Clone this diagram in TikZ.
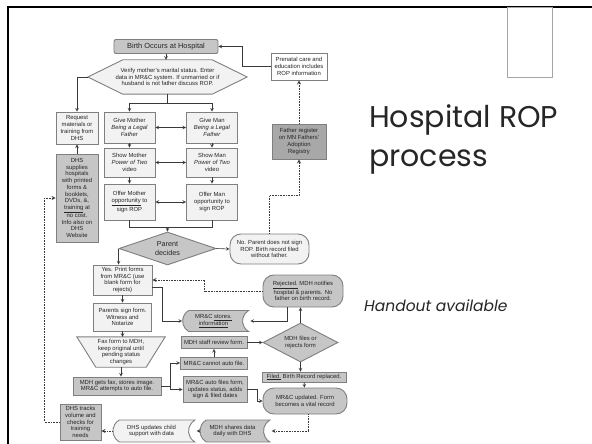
\documentclass[tikz,border=0pt]{standalone}
\usepackage{fontspec}
\setmainfont{Liberation Sans}
\newfontfamily\titlefont{Poppins}
\usetikzlibrary{shapes.geometric,shapes.misc,backgrounds}
\definecolor{boxlight}{HTML}{F2F2F2}
\definecolor{boxmid}{HTML}{C6C6C6}
\definecolor{boxdark}{HTML}{A8A8A8}
\definecolor{edgegray}{HTML}{7F7F7F}
\definecolor{linkgray}{HTML}{3A3A3A}
\definecolor{titlegray}{HTML}{262626}
\newcommand{\boxfont}{\fontsize{5.9}{6.7}\selectfont}
\begin{document}
\begin{tikzpicture}[x=1pt, y=-1pt, >=stealth,
  box/.style={draw=edgegray, line width=0.9pt, fill=boxlight, align=center, inner sep=0.5pt, font=\boxfont, text=black!85},
  midbox/.style={box, fill=boxmid},
  darkbox/.style={box, fill=boxdark},
  terminal/.style={midbox, rounded corners=11pt},
  stored/.style={midbox, rounded rectangle, rounded rectangle right arc=concave, rounded rectangle arc length=120},
  decide/.style={midbox, diamond, inner sep=0pt},
  link/.style={draw=linkgray, line width=0.6pt},
  dotlink/.style={link, densely dotted, line width=0.8pt}]
  \useasboundingbox (0,0) rectangle (592,444);
  \draw[line width=2.5pt] (8,444) -- (8,7) -- (592,7);
  \draw[gray!70, line width=0.6pt] (507,7) rectangle (552,77);

  \node[midbox, rounded corners=2pt, minimum width=104pt, minimum height=14pt, font=\fontsize{7.4}{8.5}\selectfont] (birth) at (166,46.5) {Birth Occurs at Hospital};
  \node[font=\boxfont, text=black!85, align=center, minimum width=159pt, minimum height=34pt, inner sep=0pt] (verify) at (167.5,77) {Verify mother's marital status. Enter\\data in MR\&C system. If unmarried or if\\husband is not father discuss ROP.};
  \node[box, minimum width=42pt, minimum height=32pt] (request) at (77,128) {Request\\materials or\\training from\\DHS};
  \node[box, minimum width=51pt, minimum height=31pt] (givemother) at (129.5,127.5) {Give Mother\\\textit{Being a Legal}\\\textit{Father}};
  \node[box, minimum width=51pt, minimum height=31pt] (giveman) at (212,127.5) {Give Man\\\textit{Being a Legal}\\\textit{Father}};
  \node[box, minimum width=51pt, minimum height=29pt] (showmother) at (129.5,162.5) {Show Mother\\\textit{Power of Two}\\video};
  \node[box, minimum width=51pt, minimum height=29pt] (showman) at (212,162.5) {Show Man\\\textit{Power of Two}\\video};
  \node[box, minimum width=51pt, minimum height=36pt] (offermother) at (129.5,202) {Offer Mother\\\underline{opportunity} to\\sign ROP};
  \node[box, minimum width=51pt, minimum height=36pt] (offerman) at (212,202) {Offer Man\\opportunity to\\sign ROP};
  \node[midbox, minimum width=42pt, minimum height=88pt] (dhssupply) at (77,198) {DHS\\supplies\\hospitals\\with printed\\forms \&\\booklets,\\DVDs, \&,\\\underline{training} at\\no cost.\\Info also on\\DHS\\Website};
  \node[decide, minimum width=97pt, minimum height=33pt, aspect=2.9, font=\fontsize{7.2}{8.6}\selectfont] (parent) at (167.5,248.5) {Parent\\decides};
  \node[box, rounded corners=11pt, minimum width=79pt, minimum height=30pt] (noparent) at (269.5,249) {No. Parent does not sign\\ROP. Birth record filed\\without father.};
  \node[darkbox, minimum width=54pt, minimum height=35pt] (father) at (299,141.5) {Father register\\on MN Fathers'\\Adoption\\Registry};
  \node[box, fill=white, minimum width=56pt, minimum height=27pt] (prenatal) at (299,66.5) {Prenatal care and\\education includes\\ROP information};
  \node[box, minimum width=59pt, minimum height=30pt] (yes) at (122.5,280) {Yes. Print forms\\from MR\&C (use\\blank form for\\rejects)};
  \node[box, minimum width=58pt, minimum height=28pt] (signform) at (122.5,317) {Parents sign form.\\Witness and\\Notarize};
  \node[font=\boxfont, text=black!85, align=center, minimum width=88pt, minimum height=30pt, inner sep=0pt] (fax) at (121,352) {Fax form to MDH,\\keep original until\\pending status\\changes};
  \node[midbox, minimum width=88pt, minimum height=18pt] (mdhfax) at (117,386) {MDH gets fax, stores image.\\MR\&C attempts to auto file.};
  \node[stored, minimum width=67pt, minimum height=21pt] (stores) at (213.5,321) {MR\&C \underline{stores.}\\\underline{information}};
  \node[midbox, minimum width=66pt, minimum height=12pt] (review) at (214,342.5) {MDH staff review form.};
  \node[midbox, minimum width=67pt, minimum height=12pt] (cannot) at (214,363) {MR\&C cannot auto file.};
  \node[midbox, minimum width=64pt, minimum height=26pt] (autofiles) at (215,389.5) {MR\&C auto files form,\\updates status, adds\\sign \& filed dates};
  \node[decide, minimum width=75pt, minimum height=39pt, aspect=1.9] (mdhfiles) at (300.5,342.5) {MDH files or\\rejects form};
  \node[terminal, minimum width=80pt, minimum height=32pt] (rejected) at (303,291) {\underline{Rejected.} MDH notifies\\hospital \& parents. No\\father on birth record.};
  \node[midbox, minimum width=84pt, minimum height=10pt] (filed) at (304,377) {\underline{Filed.} Birth Record replaced.};
  \node[terminal, minimum width=84pt, minimum height=26pt] (updated) at (305,401) {MR\&C updated. Form\\becomes a vital record};
  \node[stored, minimum width=71pt, minimum height=22pt] (shares) at (232.5,431) {MDH shares data\\daily with DHS};
  \node[stored, fill=boxlight, minimum width=83pt, minimum height=22pt] (dhsupdate) at (151.5,431) {DHS updates child\\support with data};
  \node[midbox, minimum width=41pt, minimum height=36pt] (tracks) at (80.5,422) {DHS tracks\\volume and\\checks for\\training\\needs};

  \node[anchor=base west, inner sep=0pt, text=titlegray, font=\titlefont\fontsize{30}{36}\selectfont] (title) at (369,128) {Hospital ROP};
  \node[anchor=base west, inner sep=0pt, text=titlegray, font=\titlefont\fontsize{30}{36}\selectfont] (titletwo) at (369,166) {process};
  \node[anchor=west, inner sep=0pt, text=titlegray, font=\titlefont\itshape\fontsize{15.5}{18}\selectfont] (handout) at (364,306) {Handout available};

  \begin{pgfonlayer}{background}
    \filldraw[draw=edgegray, line width=0.9pt, fill=boxlight] (verify.west) -- ([xshift=35pt]verify.north west) -- ([xshift=-35pt]verify.north east) -- (verify.east) -- ([xshift=-35pt]verify.south east) -- ([xshift=35pt]verify.south west) -- cycle;
    \filldraw[draw=edgegray, line width=0.9pt, fill=boxlight] (fax.north west) -- (fax.north east) -- ([xshift=-19pt]fax.south east) -- ([xshift=19pt]fax.south west) -- cycle;
  \end{pgfonlayer}

  \draw[link,->] (birth.south) -- (birth.south |- verify.north);
  \draw[link,->] (verify.west) -| (request.north);
  \draw[link] (verify.south) -- ++(0,9) coordinate (split);
  \draw[link,->] (split) -| (givemother.north);
  \draw[link,->] (split) -| (giveman.north);
  \draw[link,<->] (givemother) -- (giveman);
  \draw[link,<->] (showmother) -- (showman);
  \draw[link,<->] (offermother) -- (offerman);
  \draw[link,->] (givemother) -- (showmother);
  \draw[link,->] (showmother) -- (offermother);
  \draw[link,->] (giveman) -- (showman);
  \draw[link,->] (showman) -- (offerman);
  \draw[link] (offermother.south) -- ++(0,7) coordinate (join) -| (offerman.south);
  \draw[link,->] (join -| parent.north) -- (parent.north);
  \draw[link,->] (parent.east) -- (noparent.west);
  \draw[dotlink,->] (noparent.north) -- ++(0,-38) -| (father.south);
  \draw[dotlink,->] (father.north) -- (prenatal.south);
  \draw[link,->] (prenatal.west) -- ++(-28,0) |- (birth.east);
  \draw[link,->] (parent.west) -- (parent.west |- yes.north);
  \draw[link,->] (dhssupply) -- (request);
  \draw[link,->] (yes) -- (signform);
  \draw[link,->] (signform.south) -- (signform.south |- fax.north);
  \draw[link,->] (fax.south) -- (fax.south |- mdhfax.north);
  \draw[link] (mdhfax.east) -- ++(9,0) coordinate (fork);
  \draw[link,->] (fork) |- (cannot.west);
  \draw[link,->] (fork) |- (autofiles.west);
  \draw[link,->] (cannot) -- (review);
  \draw[link,->] (review.east) -- (mdhfiles.west);
  \draw[link,->] (mdhfiles.north) -- (mdhfiles.north |- rejected.south);
  \draw[link,->] ([xshift=-16pt]rejected.south) |- (stores.east);
  \draw[link,->] ([yshift=-7pt]yes.east) -- ++(10,0) |- (stores.west);
  \draw[dotlink,->] (rejected.west) -- ++(-58,0) |- (yes.east);
  \draw[link,->] (mdhfiles.south) -- (mdhfiles.south |- filed.north);
  \draw[link,->] (filed) -- (updated);
  \draw[link,->] (autofiles.east) -- ++(10,0) |- (updated.west);
  \draw[dotlink,->] ([xshift=3pt]updated.south) |- (shares.east);
  \draw[dotlink,->] (shares.west) -- (dhsupdate.east);
  \draw[dotlink,->] (dhsupdate.west) -- (dhsupdate.west -| tracks.east);
  \draw[dotlink,->] (tracks.west) -- ++(-15,0) |- (dhssupply.west);
\end{tikzpicture}
\end{document}
